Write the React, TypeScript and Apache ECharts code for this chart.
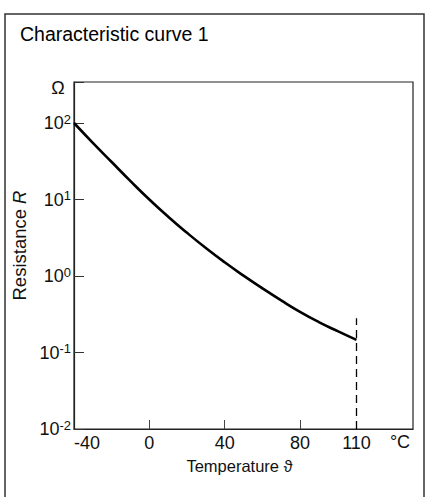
import React, { useEffect, useRef } from "react";
import * as echarts from "echarts";

const temperatures = [-40, -30, -20, -10, 0, 10, 20, 30, 40, 50, 60, 70, 80, 90, 100, 110];
const resistances = [100, 55, 30.9, 17.4, 10, 5.96, 3.67, 2.32, 1.51, 1.01, 0.69, 0.48, 0.34, 0.25, 0.19, 0.146];
const xLabelValues = [-40, 0, 40, 80, 110];
const xTickValues = [0, 40, 80];
const limitTemperature = 110;
const limitTop = 0.28;
const titleText = "Characteristic curve 1";
const xName = "Temperature ϑ";
const yNameRich = "Resistance {i|R}";
const xUnit = "°C";
const yUnit = "Ω";

const FONT = "'Liberation Sans', Arial, Helvetica, sans-serif";
const INK = "#111";

export default function App() {
  const ref = useRef<HTMLDivElement>(null);
  useEffect(() => {
    document.body.style.margin = "0";
    const chart = echarts.init(ref.current!, null, { renderer: "svg" });
    const data = temperatures.map((t, i) => [t, resistances[i]]);
    chart.setOption({
      animation: false,
      backgroundColor: "#fff",
      title: {
        text: titleText,
        left: 15,
        top: 19,
        textStyle: { fontFamily: FONT, fontSize: 19.5, fontWeight: "normal", color: "#000" },
      },
      grid: {
        left: 74,
        top: 82,
        right: 16,
        bottom: 68,
        show: true,
        borderColor: "#222",
        borderWidth: 1.2,
        backgroundColor: "transparent",
      },
      xAxis: {
        type: "value",
        min: -40,
        max: 140,
        name: xName,
        nameLocation: "middle",
        nameGap: 28,
        nameTextStyle: { fontFamily: FONT, fontSize: 16.5, color: INK, padding: [0, 8, 0, 0] },
        axisLine: { onZero: false, lineStyle: { color: "#222", width: 1.2 } },
        splitLine: { show: false },
        axisTick: { inside: true, length: 9, customValues: xTickValues, lineStyle: { color: "#444" } },
        axisLabel: {
          customValues: xLabelValues,
          alignMinLabel: "left",
          margin: 5,
          fontFamily: FONT,
          fontSize: 18,
          color: INK,
        },
      },
      yAxis: {
        type: "log",
        logBase: 10,
        min: 0.01,
        max: 343.6,
        name: yNameRich,
        nameLocation: "middle",
        nameGap: 39,
        nameTextStyle: {
          fontFamily: FONT,
          fontSize: 18.5,
          color: INK,
          padding: [0, 0, 0, 20],
          rich: { i: { fontFamily: FONT, fontSize: 18.5, fontStyle: "italic", color: INK } },
        },
        axisLine: { onZero: false, lineStyle: { color: "#222", width: 1.2 } },
        splitLine: { show: false },
        minorTick: { show: false },
        axisTick: { inside: true, length: 10, lineStyle: { color: "#333" } },
        axisLabel: {
          margin: 3,
          formatter: (v: number) => {
            const l = Math.log10(v);
            const r = Math.round(l);
            if (Math.abs(l - r) > 1e-6) return "";
            return `{b|10}{s|${r}}`;
          },
          rich: {
            b: { fontFamily: FONT, fontSize: 18, color: INK, lineHeight: 21 },
            s: { fontFamily: FONT, fontSize: 13, color: INK, lineHeight: 11, verticalAlign: "top" },
          },
        },
      },
      graphic: [
        {
          type: "rect",
          shape: { x: 5, y: 14, width: 419, height: 500 },
          style: { fill: "none", stroke: "#333", lineWidth: 1.5 },
          silent: true,
        },
        {
          type: "text",
          x: 58,
          y: 88,
          style: { text: yUnit, fontFamily: FONT, fontSize: 18, fill: INK, align: "center", verticalAlign: "middle" },
        },
        {
          type: "text",
          x: 400,
          y: 442,
          style: { text: xUnit, fontFamily: FONT, fontSize: 18, fill: INK, align: "center", verticalAlign: "middle" },
        },
      ],
      series: [
        {
          type: "line",
          data,
          smooth: true,
          showSymbol: false,
          symbol: "none",
          lineStyle: { color: "#000", width: 2.6 },
          markLine: {
            silent: true,
            symbol: "none",
            label: { show: false },
            lineStyle: { color: "#000", width: 1.3, type: [8, 5] },
            data: [[{ coord: [limitTemperature, 0.01] }, { coord: [limitTemperature, limitTop] }]],
          },
        },
      ],
    });
    return () => chart.dispose();
  }, []);
  return <div ref={ref} style={{ width: 429, height: 497 }} />;
}
